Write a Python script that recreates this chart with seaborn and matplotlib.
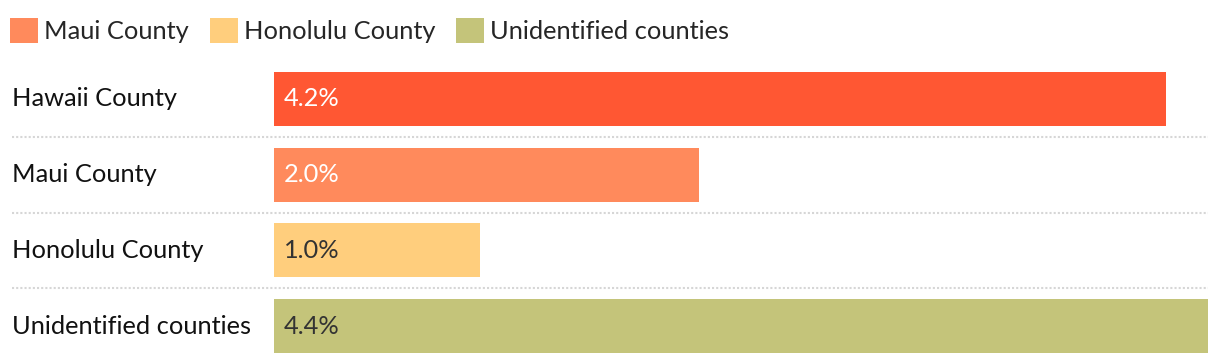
import numpy as np
import pandas as pd
import seaborn as sns
import matplotlib.pyplot as plt
from matplotlib.patches import Patch
from matplotlib.transforms import blended_transform_factory

# data
counties = ['Hawaii County', 'Maui County', 'Honolulu County', 'Unidentified counties']
shares = [4.2, 2.0, 0.97, 4.4]
colors = ['#FF5733', '#FF8A5C', '#FFCE7D', '#C4C47A']
label_colors = ['white', 'white', '#333333', '#333333']
legend_items = ['Maui County', 'Honolulu County', 'Unidentified counties']

df = pd.DataFrame({'county': counties, 'share': shares})

sns.set_theme(style='white')
plt.rcParams['font.family'] = ['Lato', 'DejaVu Sans']
fs = 18.3

fig = plt.figure(figsize=(12.2, 3.64), dpi=100)
ax = fig.add_axes([274 / 1220, 0, 934 / 1220, 303 / 364])

sns.barplot(data=df, x='share', y='county', hue='county', palette=dict(zip(counties, colors)),
            orient='h', dodge=False, width=0.71, saturation=1, linewidth=0,
            legend=False, ax=ax)

ax.set_xlim(0, 4.4)
ax.set_ylim(3.5, -0.5)
ax.set_xlabel('')
ax.set_ylabel('')
ax.set_xticks([])
ax.set_yticks([])
sns.despine(ax=ax, left=True, bottom=True)

tr = blended_transform_factory(fig.transFigure, ax.transData)

# row labels and value labels
for i, (name, val) in enumerate(zip(counties, shares)):
    ax.text(12 / 1220, i, name, transform=tr, ha='left', va='center',
            fontsize=fs, color='#111111')
    ax.text(0.045, i, f'{val:.1f}%', ha='left', va='center', fontsize=fs,
            color=label_colors[i])

# dotted separators between rows
for y in [0.5, 1.5, 2.5]:
    ax.plot([12 / 1220, 1208 / 1220], [y, y], transform=tr, color='#d6d6d6',
            linewidth=1.5, linestyle=(0, (1, 1)), clip_on=False)

handles = [Patch(facecolor=c, edgecolor='none') for c in colors[1:]]
fig.legend(handles, legend_items, loc='upper left', bbox_to_anchor=(0 / 1220, 1 - 8 / 364),
           ncol=3, frameon=False, fontsize=fs, handlelength=1.1, handleheight=1.1,
           handletextpad=0.25, columnspacing=0.8, borderaxespad=0)

fig.savefig('out.png', dpi=100, facecolor='white')
